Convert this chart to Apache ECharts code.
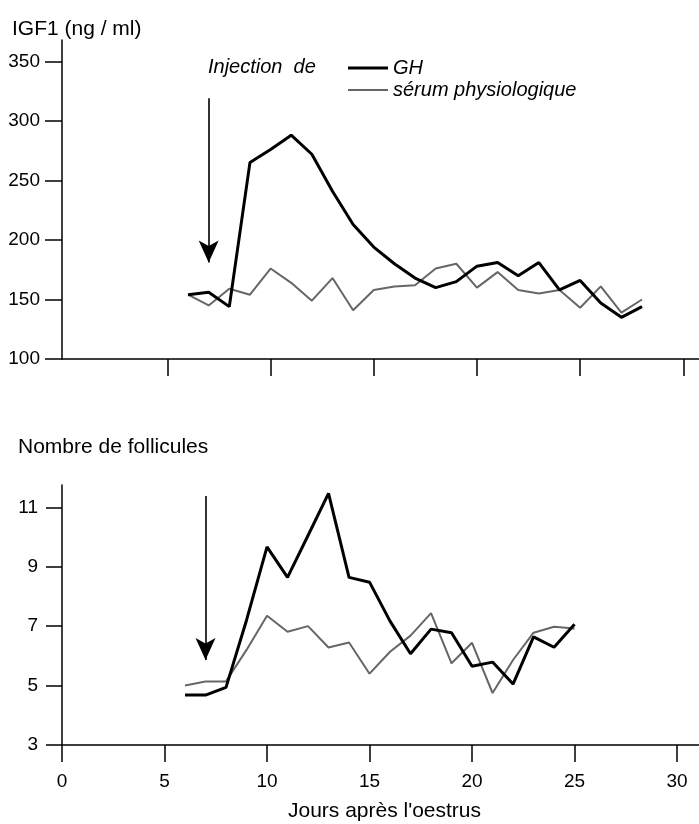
<!DOCTYPE html>
<html>
<head>
<meta charset="utf-8">
<script src="https://cdn.jsdelivr.net/npm/echarts@6/dist/echarts.min.js"></script>
<style>
html,body{margin:0;padding:0;background:#fff;}
#chart{width:699px;height:824px;}
</style>
</head>
<body>
<div id="chart"></div>
<script>
// ---- data ----
const igfDays = [6,7,8,9,10,11,12,13,14,15,16,17,18,19,20,21,22,23,24,25,26,27,28];
const igfGH = [154,156,144,265,276,288,272,241,213,194,180,168,160,165,178,181,170,181,158,166,147,135,144];
const igfSerum = [154,145,159,154,176,164,149,168,141,158,161,162,176,180,160,173,158,155,158,143,161,139,150];

const follDays = [6,7,8,9,10,11,12,13,14,15,16,17,18,19,20,21,22,23,24,25];
const follGH = [4.68,4.68,4.94,7.2,9.67,8.64,10.05,11.47,8.64,8.48,7.17,6.07,6.9,6.78,5.65,5.79,5.05,6.64,6.29,7.06];
const follSerum = [5.0,5.14,5.14,6.2,7.35,6.81,7.0,6.28,6.45,5.4,6.14,6.68,7.44,5.75,6.44,4.75,5.86,6.78,6.98,6.92];

const xTicks = [0,5,10,15,20,25,30];
const xTicksTop = [5,10,15,20,25,30];
const igfTicks = [100,150,200,250,300,350];
const follTicks = [3,5,7,9,11];

const injectionDay = 7;
const igfArrow = [319, 181];
const follArrow = [11.38, 5.86];

const seriesNames = ['GH', 'sérum physiologique'];

// ---- chart ----
const FONT = 'Liberation Sans, Arial, Helvetica, sans-serif';
const chart = echarts.init(document.getElementById('chart'), null, {renderer:'canvas'});

const axisLineStyle = {color:'#000', width:1.5};
const GH_COLOR = '#000', SERUM_COLOR = '#666';
function pair(xs, ys){ return xs.map((x,i)=>[x, ys[i]]); }

function arrowLine(day, from, to){
  return {
    silent:true,
    symbol:['none','arrow'],
    symbolSize:[15,22],
    lineStyle:{color:'#000', width:1.6, type:'solid'},
    label:{show:false},
    emphasis:{disabled:true},
    data:[[{coord:[day, from]},{coord:[day, to]}]]
  };
}

const option = {
  animation:false,
  textStyle:{fontFamily:FONT},
  title:[
    {text:'IGF1 (ng / ml)', left:7, top:14, textStyle:{fontFamily:FONT, fontSize:21, fontWeight:'normal', color:'#000'}},
    {text:'Nombre de follicules', left:13, top:432, textStyle:{fontFamily:FONT, fontSize:21, fontWeight:'normal', color:'#000'}},
    {text:'Injection  de', left:203, top:52, textStyle:{fontFamily:FONT, fontSize:20, fontStyle:'italic', fontWeight:'normal', color:'#000'}}
  ],
  legend:{
    data:[
      {name:seriesNames[0], icon:'path://M0 0H40V3H0Z', itemStyle:{color:GH_COLOR}},
      {name:seriesNames[1], icon:'path://M0 0H40V2H0Z', itemStyle:{color:SERUM_COLOR}}
    ],
    orient:'vertical',
    left:343, top:53,
    itemWidth:40, itemHeight:14, itemGap:2,
    symbolKeepAspect:true,
    selectedMode:false,
    textStyle:{fontFamily:FONT, fontSize:20, fontStyle:'italic', color:'#000'}
  },
  grid:[
    {left:62, right:0, top:40, height:319},
    {left:62, right:0, top:485, height:260}
  ],
  xAxis:[
    {
      type:'value', gridIndex:0, min:-0.107, max:30.76,
      axisLine:{show:true, onZero:false, lineStyle:axisLineStyle},
      axisTick:{show:true, length:17, customValues:xTicksTop, lineStyle:axisLineStyle},
      axisLabel:{show:false},
      splitLine:{show:false}
    },
    {
      type:'value', gridIndex:1, min:0, max:31.07,
      name:"Jours après l'oestrus", nameLocation:'middle', nameGap:56,
      nameTextStyle:{fontFamily:FONT, fontSize:21, color:'#000', padding:[0,0,0,8]},
      axisLine:{show:true, onZero:false, lineStyle:axisLineStyle},
      axisTick:{show:true, length:17, customValues:xTicks, lineStyle:axisLineStyle},
      axisLabel:{show:true, customValues:xTicks, margin:27, fontFamily:FONT, fontSize:19, color:'#000'},
      splitLine:{show:false}
    }
  ],
  yAxis:[
    {
      type:'value', gridIndex:0, min:100, max:368,
      axisLine:{show:true, onZero:false, lineStyle:axisLineStyle},
      axisTick:{show:true, length:17, customValues:igfTicks, lineStyle:axisLineStyle},
      axisLabel:{show:true, customValues:igfTicks, margin:22, fontFamily:FONT, fontSize:19, color:'#000'},
      splitLine:{show:false}
    },
    {
      type:'value', gridIndex:1, min:3, max:11.75,
      axisLine:{show:true, onZero:false, lineStyle:axisLineStyle},
      axisTick:{show:true, length:16, customValues:follTicks, lineStyle:axisLineStyle},
      axisLabel:{show:true, customValues:follTicks, margin:24, fontFamily:FONT, fontSize:19, color:'#000'},
      splitLine:{show:false}
    }
  ],
  series:[
    {
      name:seriesNames[1], type:'line', xAxisIndex:0, yAxisIndex:0,
      data:pair(igfDays, igfSerum), symbol:'none', z:2,
      lineStyle:{color:SERUM_COLOR, width:2}, itemStyle:{color:SERUM_COLOR}
    },
    {
      name:seriesNames[0], type:'line', xAxisIndex:0, yAxisIndex:0,
      data:pair(igfDays, igfGH), symbol:'none', z:3,
      lineStyle:{color:GH_COLOR, width:3}, itemStyle:{color:GH_COLOR},
      markLine:arrowLine(injectionDay, igfArrow[0], igfArrow[1])
    },
    {
      name:seriesNames[1], type:'line', xAxisIndex:1, yAxisIndex:1,
      data:pair(follDays, follSerum), symbol:'none', z:2,
      lineStyle:{color:SERUM_COLOR, width:2}, itemStyle:{color:SERUM_COLOR}
    },
    {
      name:seriesNames[0], type:'line', xAxisIndex:1, yAxisIndex:1,
      data:pair(follDays, follGH), symbol:'none', z:3,
      lineStyle:{color:GH_COLOR, width:3}, itemStyle:{color:GH_COLOR},
      markLine:arrowLine(injectionDay, follArrow[0], follArrow[1])
    }
  ]
};
chart.setOption(option);
</script>
</body>
</html>
